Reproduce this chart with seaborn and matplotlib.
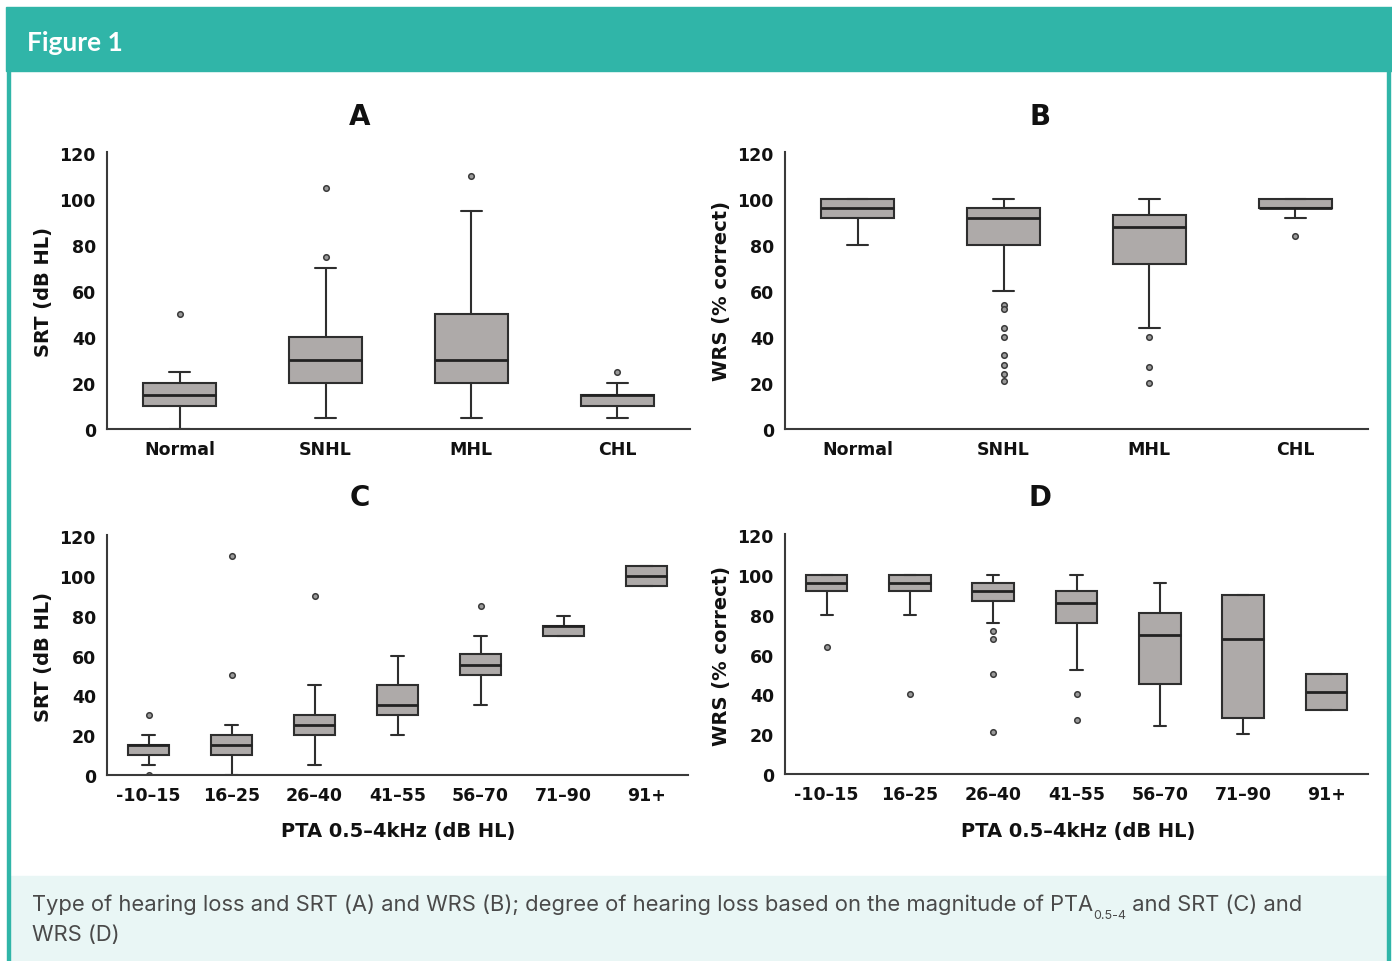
import matplotlib
matplotlib.use("Agg")
import matplotlib.pyplot as plt
import seaborn as sns
from matplotlib.patches import Rectangle

sns.set_theme(style="white")
plt.rcParams["font.family"] = ["DejaVu Sans"]

# Categories
type_groups = ["Normal", "SNHL", "MHL", "CHL"]
pta_groups = ["-10–15", "16–25", "26–40", "41–55", "56–70", "71–90", "91+"]

# A: SRT by type of hearing loss
a_q1 = [10, 20, 20, 10]
a_med = [15, 30, 30, 15]
a_q3 = [20, 40, 50, 15]
a_lo = [0, 5, 5, 5]
a_hi = [25, 70, 95, 20]
a_fliers = [[50], [75, 105], [110], [25]]

# B: WRS by type of hearing loss
b_q1 = [92, 80, 72, 96]
b_med = [96, 92, 88, 96]
b_q3 = [100, 96, 93, 100]
b_lo = [80, 60, 44, 92]
b_hi = [100, 100, 100, 100]
b_fliers = [[], [54, 52, 44, 40, 32, 28, 24, 21], [40, 27, 20], [84]]

# C: SRT by degree of hearing loss (PTA)
c_q1 = [10, 10, 20, 30, 50, 70, 95]
c_med = [15, 15, 25, 35, 55, 75, 100]
c_q3 = [15, 20, 30, 45, 61, 75, 105]
c_lo = [5, 0, 5, 20, 35, 70, 95]
c_hi = [20, 25, 45, 60, 70, 80, 105]
c_fliers = [[30, 0], [50, 110], [90], [], [85], [], []]

# D: WRS by degree of hearing loss (PTA)
d_q1 = [92, 92, 87, 76, 45, 28, 32]
d_med = [96, 96, 92, 86, 70, 68, 41]
d_q3 = [100, 100, 96, 92, 81, 90, 50]
d_lo = [80, 80, 76, 52, 24, 20, 32]
d_hi = [100, 100, 100, 100, 96, 90, 50]
d_fliers = [[64], [40], [72, 68, 50, 21], [40, 27], [], [], []]

W, H = 1392, 962
BOX = "#aeaaa9"
EDGE = "#2e2e2e"
TEAL = "#30b5a8"

fig = plt.figure(figsize=(W / 100, H / 100), dpi=100)
fig.patch.set_facecolor("white")


def fx(px):
    return px / W


def fy(py):
    return 1 - py / H


def draw_panel(rect, cats, q1, med, q3, lo, hi, fliers):
    ax = fig.add_axes(rect)
    stats = []
    for c, a, m, b, l, h, f in zip(cats, q1, med, q3, lo, hi, fliers):
        stats.append(dict(label=c, q1=a, med=m, q3=b, whislo=l, whishi=h, fliers=f))
    ax.bxp(
        stats, positions=range(len(cats)), widths=0.5, capwidths=0.145,
        patch_artist=True,
        boxprops=dict(facecolor=BOX, edgecolor=EDGE, linewidth=1.5),
        medianprops=dict(color="#222222", linewidth=2.0),
        whiskerprops=dict(color=EDGE, linewidth=1.5),
        capprops=dict(color=EDGE, linewidth=1.5),
        flierprops=dict(marker="o", markersize=4, markerfacecolor="#9a9a9a",
                        markeredgecolor="#3a3a3a", markeredgewidth=1.1),
    )
    ax.set_xlim(-0.5, len(cats) - 0.5)
    ax.set_ylim(0, 120.5)
    ax.set_yticks(range(0, 121, 20))
    ax.set_xticks(range(len(cats)))
    ax.set_xticklabels(cats)
    ax.set_facecolor("none")
    sns.despine(ax=ax)
    for s in ["left", "bottom"]:
        ax.spines[s].set_color("#3a3a3a")
        ax.spines[s].set_linewidth(1.5)
    ax.tick_params(length=0, labelsize=12.5, pad=8, colors="#111111")
    for t in ax.get_xticklabels() + ax.get_yticklabels():
        t.set_fontweight("bold")
    ax.grid(False)
    return ax


# header bar, frame and caption background (behind the axes)
for r in [((6, 72), 1392 - 6, 64), ((9, 962), 1387 - 9, 85),
          ((7, 962), 3, 890), ((1387, 962), 3, 890)]:
    (x0, y0), w, h = r
    fig.patches.append(Rectangle((fx(x0), fy(y0)), fx(w), h / H,
                                 transform=fig.transFigure, zorder=-2,
                                 color="#e9f6f5" if h == 85 else TEAL))
fig.text(fx(27), fy(43), "Figure 1", color="white", fontsize=19, fontweight="bold",
         family=["Lato", "DejaVu Sans"], va="center", ha="left")

axA = draw_panel([fx(107), fy(430), fx(583), fy(154) - fy(430) + 0.001],
                 type_groups, a_q1, a_med, a_q3, a_lo, a_hi, a_fliers)
axB = draw_panel([fx(785), fy(430), fx(583), fy(154) - fy(430) + 0.001],
                 type_groups, b_q1, b_med, b_q3, b_lo, b_hi, b_fliers)
axC = draw_panel([fx(107), fy(776), fx(581), fy(537) - fy(776) + 0.001],
                 pta_groups, c_q1, c_med, c_q3, c_lo, c_hi, c_fliers)
axD = draw_panel([fx(785), fy(775), fx(583), fy(536) - fy(775) + 0.001],
                 pta_groups, d_q1, d_med, d_q3, d_lo, d_hi, d_fliers)

# panel letters
for letter, x, y in [("A", 360, 117), ("B", 1040, 117), ("C", 360, 498), ("D", 1040, 498)]:
    fig.text(fx(x), fy(y), letter, fontsize=20, fontweight="bold", ha="center",
             va="center", color="#111111")

# y labels
for lab, x, y in [("SRT (dB HL)", 43, 292), ("WRS (% correct)", 721, 291),
                  ("SRT (dB HL)", 43, 657), ("WRS (% correct)", 721, 656)]:
    fig.text(fx(x), fy(y), lab, rotation=90, fontsize=14, fontweight="bold",
             ha="center", va="center", color="#111111")

# x labels
for x in [398, 1078]:
    fig.text(fx(x), fy(832), "PTA 0.5–4kHz (dB HL)", fontsize=14, fontweight="bold",
             ha="center", va="center", color="#111111")

# caption with subscript
cap_font = ["Inter", "DejaVu Sans"]
cap_col = "#4a4a4a"
base1 = fy(911)
t1 = fig.text(fx(32), base1,
              "Type of hearing loss and SRT (A) and WRS (B); degree of hearing loss "
              "based on the magnitude of PTA",
              fontsize=15.8, family=cap_font, color=cap_col, va="baseline", ha="left")
sub = axD.annotate("0.5-4", xy=(1, base1 - 0.008), xycoords=(t1, "figure fraction"),
                   fontsize=9, family=cap_font, color=cap_col, va="baseline",
                   ha="left", annotation_clip=False, clip_on=False)
axD.annotate(" and SRT (C) and", xy=(1, base1), xycoords=(sub, "figure fraction"),
             fontsize=15.8, family=cap_font, color=cap_col, va="baseline", ha="left",
             annotation_clip=False, clip_on=False)
fig.text(fx(32), fy(941), "WRS (D)", fontsize=15.8, family=cap_font, color=cap_col,
         va="baseline", ha="left")

fig.savefig("out.png", dpi=100, facecolor="white")
